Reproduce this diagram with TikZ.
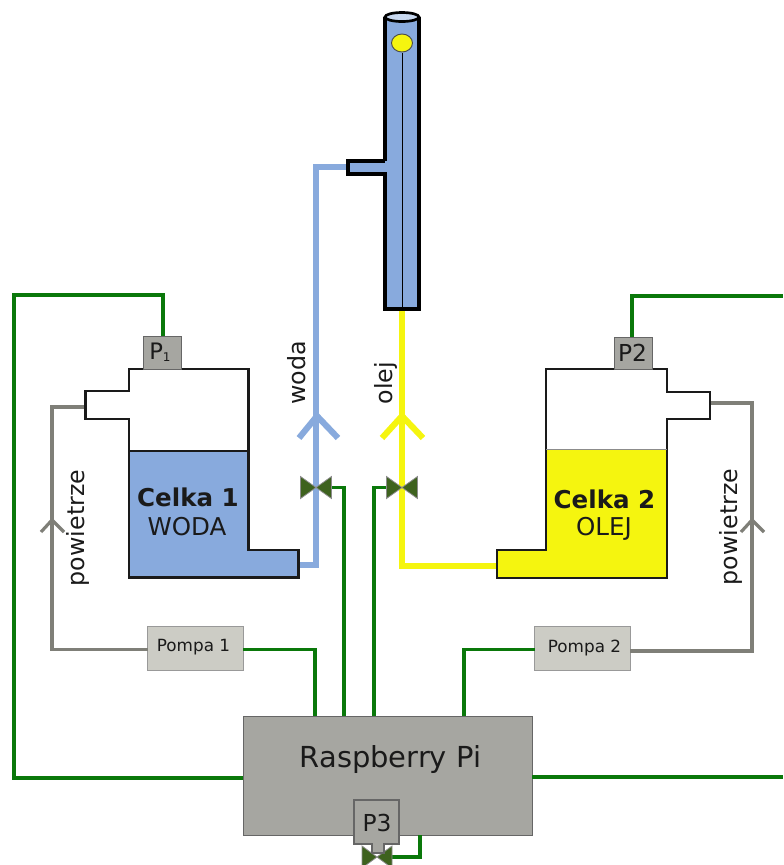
\documentclass[tikz,border=0pt]{standalone}
\usepackage{fontspec}
\setmainfont{DejaVu Sans}
\definecolor{wat}{HTML}{88AADD}
\definecolor{oil}{HTML}{F5F50F}
\definecolor{wire}{HTML}{0A780A}
\definecolor{air}{HTML}{7F7F78}
\definecolor{rpi}{HTML}{A6A6A1}
\definecolor{pmp}{HTML}{CCCCC5}
\definecolor{vlv}{HTML}{3E621E}
\definecolor{ink}{HTML}{1A1A1A}
\tikzset{
  x=0.75pt,y=-0.75pt,
  wirel/.style={draw=wire,line width=2.4pt,line join=miter},
  airl/.style={draw=air,line width=2.4pt},
  chev/.style={line width=4.6pt,line cap=butt},
  chevair/.style={draw=air,line width=2.4pt},
  cellout/.style={draw=ink,line width=1.7pt,line join=miter},
  sensor/.style={draw=black!60,line width=0.8pt,fill=rpi,inner sep=0pt},
  pumpbox/.style={draw=black!40,line width=0.6pt,fill=pmp,minimum width=71.5pt,minimum height=32.5pt,inner sep=0pt},
  lbl/.style={inner sep=0pt,text=ink},
  side/.style={inner sep=0pt,text=ink,rotate=90,font=\fontsize{17.8}{20}\selectfont},
  vshape/.style={draw=black!45,line width=0.6pt,fill=vlv}
}
\newcommand{\valve}[1]{\path[vshape] (#1) ++(-15.5,-11) -- ++(31,22) -- ++(0,-22) -- ++(-31,22) -- cycle;}
\begin{document}
\begin{tikzpicture}
\useasboundingbox (0,0) rectangle (783,865);
\begin{scope}
\clip (0,0) rectangle (783,865);
% anchors
\coordinate (v1) at (316,487.5);
\coordinate (v2) at (402,487.5);
\coordinate (v3) at (377,857);
\coordinate (stub) at (348,167);
\coordinate (cell1out) at (299,565);
\coordinate (colbot) at (402,310);
\coordinate (cell2out) at (497,566);
\coordinate (cell1air) at (86,407);
\coordinate (cell2air) at (711,403);
\coordinate (tr1) at (783,296);
\coordinate (tr2) at (783,777);
% pipes
\draw[draw=wat,line width=4.4pt] (stub) -- (316,167) -- (316,565) -- (cell1out);
\draw[draw=oil,line width=4.6pt] (colbot) -- (402,566) -- (cell2out);
\draw[draw=wat,chev] (299,438) -- (317,416) -- (338,438);
\draw[draw=oil,chev] (382,438) -- (402,416) -- (423,438);
% boxes
\node[draw=black!60,line width=0.8pt,fill=rpi,minimum width=216.5pt,minimum height=89pt,inner sep=0pt,anchor=north west] (pi) at (243,716) {};
\node[lbl,font=\fontsize{21.7}{25}\selectfont] (pilab) at (390.5,760) {Raspberry Pi};
\node[pumpbox] (p1) at (195.5,648.5) {};
\node[lbl,font=\fontsize{12.6}{15}\selectfont] at (193.5,647) {Pompa 1};
\node[pumpbox] (p2) at (582.5,648.5) {};
\node[lbl,font=\fontsize{12.6}{15}\selectfont] at (584.5,648) {Pompa 2};
% wires
\draw[wirel] (v1) ++(15,0) -- (344,487.5) -- (344,716);
\draw[wirel] (v2) ++(-15,0) -- (374,487.5) -- (374,716);
\draw[wirel] (243,649.5) -- (315,649.5) -- (315,716);
\draw[wirel] (535,649.5) -- (464,649.5) -- (464,716);
\draw[wirel] (163,336) -- (163,295) -- (14,295) -- (14,778) -- (243,778);
\draw[wirel] (632,337) -- (632,296) -- (tr1);
\draw[wirel] (532,777) -- (tr2);
\draw[wirel] (v3) ++(14,0) -- (420,857) -- (420,835);
% air
\draw[airl] (cell1air) -- (52,407) -- (52,649.5) -- (148,649.5);
\draw[airl] (cell2air) -- (752,403) -- (752,651) -- (630,651);
\draw[chevair] (41,532) -- (52,520) -- (64,532);
\draw[chevair] (741,532) -- (752,520) -- (764,532);
% cell 1
\fill[wat] (129,451) -- (248.5,451) -- (248.5,550) -- (298.5,550) -- (298.5,577.5) -- (129,577.5) -- cycle;
\draw[cellout] (129,369) -- (248.5,369) -- (248.5,550) -- (298.5,550) -- (298.5,577.5) -- (129,577.5) -- (129,419) -- (85.5,419) -- (85.5,391) -- (129,391) -- cycle;
\draw[draw=ink,line width=1.3pt] (129,451) -- (248.5,451);
% cell 2
\fill[oil] (546,449.5) -- (667,449.5) -- (667,578) -- (497,578) -- (497,550) -- (546,550) -- cycle;
\draw[cellout] (546,369) -- (667,369) -- (667,392) -- (710,392) -- (710,419) -- (667,419) -- (667,578) -- (497,578) -- (497,550) -- (546,550) -- cycle;
\draw[draw=black!45,line width=0.6pt] (546,449.5) -- (667,449.5);
% labels
\node[lbl,font=\fontsize{18.4}{21}\bfseries\selectfont] at (188,497) {Celka 1};
\node[lbl,font=\fontsize{18.4}{21}\selectfont] at (187,527) {WODA};
\node[lbl,font=\fontsize{18.4}{21}\bfseries\selectfont] at (604.5,499) {Celka 2};
\node[lbl,font=\fontsize{18.4}{21}\selectfont] at (604,529) {OLEJ};
\node[side] at (78,528) {powietrze};
\node[side] at (731,527) {powietrze};
\node[side] at (297,373) {woda};
\node[side] at (386,383) {olej};
% sensors
\node[sensor,minimum width=28.5pt,minimum height=24.7pt,anchor=north west] (s1) at (143,336) {};
\node[lbl,font=\fontsize{17}{19}\selectfont,anchor=base west] at (149,359) {P\raisebox{-2pt}{\fontsize{9}{10}\selectfont 1}};
\node[sensor,minimum width=28.5pt,minimum height=24pt,anchor=north west] (s2) at (614,337) {};
\node[lbl,font=\fontsize{17.5}{19}\selectfont] at (632.5,353) {P2};
% column
\path[fill=wat] (385,17) -- (419,17) -- (419,309) -- (385,309) -- (385,174) -- (348,174) -- (348,161) -- (385,161) -- cycle;
\draw[draw=black,line width=2.6pt,line join=miter] (385,161) -- (385,17) (419,17) -- (419,309) -- (385,309) -- (385,174) -- (348,174) -- (348,161) -- (385,161);
\draw[draw=black,line width=0.7pt] (402,53) -- (402,309);
\draw[draw=black,line width=2pt,fill=wat!45] (402,17) ellipse [x radius=17,y radius=4.5];
\draw[draw=black!70,line width=0.7pt,fill=oil] (402,43) ellipse [x radius=10.5,y radius=9];
% valves
\valve{v1}
\valve{v2}
% P3
\path[vshape] (v3) ++(-15,-11) -- ++(30,22) -- ++(0,-22) -- ++(-30,22) -- cycle;
\path[draw=black!60,line width=0.8pt,fill=rpi] (354,800) -- (399,800) -- (399,844) -- (384,844) -- (384,853) -- (372,853) -- (372,844) -- (354,844) -- cycle;
\node[lbl,font=\fontsize{17.5}{19}\selectfont] (p3) at (377,823) {P3};
\end{scope}
\end{tikzpicture}
\end{document}
